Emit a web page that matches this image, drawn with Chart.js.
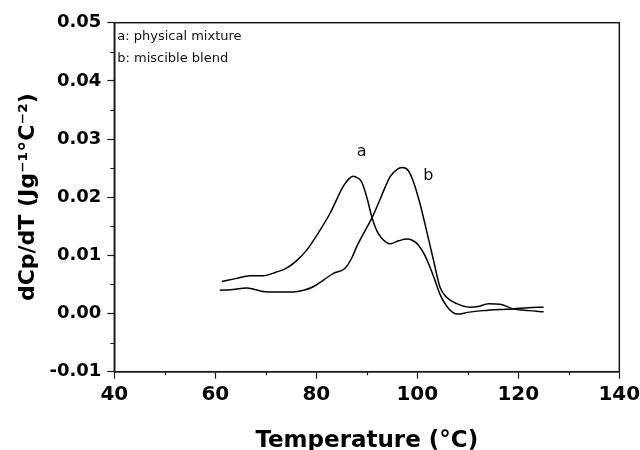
<!DOCTYPE html>
<html>
<head>
<meta charset="utf-8">
<script src="https://cdn.jsdelivr.net/npm/chart.js@4.4.1/dist/chart.umd.min.js"></script>
<style>
  html, body { margin: 0; padding: 0; background: #ffffff; }
  #wrap { width: 640px; height: 450px; }
</style>
</head>
<body>
<div id="wrap"><canvas id="c" width="640" height="450"></canvas></div>
<script>
// ---- data ----
const tempA = [61.3, 64, 66.9, 69.5, 72, 74.1, 76, 78.1, 80.5, 82.7, 85.3, 86.5, 87.3, 88.2, 89.0, 90, 91, 92, 93, 94.6, 96.3, 97.9, 99, 100.2, 101.5, 102.5, 103.5, 104.5, 105.8, 107, 108, 110, 113, 116.4, 119, 122, 125];
const valA  = [0.0055, 0.0060, 0.0065, 0.0065, 0.0071, 0.0078, 0.0090, 0.0109, 0.0140, 0.0172, 0.0218, 0.0232, 0.0236, 0.0233, 0.0226, 0.0200, 0.0166, 0.0142, 0.0129, 0.0120, 0.0125, 0.0128, 0.0126, 0.0118, 0.0100, 0.0080, 0.0057, 0.0033, 0.0013, 0.0002, -0.0001, 0.0002, 0.0005, 0.0007, 0.0008, 0.0010, 0.0011];
const tempB = [60.9, 63, 66.2, 68, 69.5, 72, 75.4, 77.5, 79.4, 81.5, 83.4, 85.7, 87, 88, 89.5, 91, 92.8, 94.6, 96, 97, 98.2, 99.3, 100.5, 101.9, 103.2, 104.5, 105.8, 107.8, 110.4, 112, 114.1, 116.4, 119, 122, 125];
const valB  = [0.0040, 0.0041, 0.0044, 0.0041, 0.0038, 0.0037, 0.0037, 0.0040, 0.0046, 0.0058, 0.0069, 0.0078, 0.0095, 0.0115, 0.0140, 0.0164, 0.0200, 0.0235, 0.0248, 0.0251, 0.0246, 0.0225, 0.0190, 0.0140, 0.0092, 0.0045, 0.0028, 0.0017, 0.0011, 0.0012, 0.0017, 0.0016, 0.0008, 0.0005, 0.0003];

const seriesNames = ['a', 'b'];
const legendLines = ['a: physical mixture', 'b: miscible blend'];
const curveLabelPos = [[89.0, 0.0278], [102.2, 0.0236]];   // where the "a" / "b" labels sit (data units)

const xMin = 40, xMax = 140, xStep = 20;
const yMin = -0.01, yMax = 0.05, yStep = 0.01;
const xMinorTicks = [50, 70, 90, 110, 130];
const yMinorTicks = [-0.005, 0.005, 0.015, 0.025, 0.035, 0.045];

const xTitle = 'Temperature (\u00B0C)';
const yTitle = 'dCp/dT (Jg\u207B\u00B9\u00B0C\u207B\u00B2)';

// ---- build ----
const toPts = (xs, ys) => xs.map((x, i) => ({ x: x, y: ys[i] }));
const INK = '#1a1a1a';

const decor = {
  id: 'decor',
  afterDraw(chart) {
    const ctx = chart.ctx;
    const a = chart.chartArea;
    const xs = chart.scales.x, ys = chart.scales.y;
    ctx.save();
    // frame
    ctx.strokeStyle = INK;
    ctx.lineWidth = 1.5;
    ctx.strokeRect(a.left, a.top, a.right - a.left, a.bottom - a.top);
    // minor ticks
    ctx.lineWidth = 1.2;
    ctx.beginPath();
    xMinorTicks.forEach(v => {
      const p = Math.round(xs.getPixelForValue(v)) + 0.5;
      ctx.moveTo(p, a.bottom); ctx.lineTo(p, a.bottom + 3.5);
    });
    yMinorTicks.forEach(v => {
      const p = Math.round(ys.getPixelForValue(v)) + 0.5;
      ctx.moveTo(a.left, p); ctx.lineTo(a.left - 4, p);
    });
    ctx.stroke();
    // legend text inside plot
    ctx.fillStyle = '#111';
    ctx.font = '13px "DejaVu Sans"';
    ctx.textAlign = 'left';
    ctx.textBaseline = 'middle';
    ctx.fillText(legendLines[0], a.left + 3, a.top + 13.5);
    ctx.fillText(legendLines[1], a.left + 3, a.top + 35.5);
    // curve labels
    ctx.font = '16px "DejaVu Sans"';
    ctx.textAlign = 'center';
    seriesNames.forEach((n, i) => {
      ctx.fillText(n, xs.getPixelForValue(curveLabelPos[i][0]), ys.getPixelForValue(curveLabelPos[i][1]));
    });
    ctx.restore();
  }
};

new Chart(document.getElementById('c'), {
  type: 'scatter',
  data: {
    datasets: [
      { label: legendLines[0], data: toPts(tempA, valA) },
      { label: legendLines[1], data: toPts(tempB, valB) }
    ].map(d => Object.assign(d, {
      showLine: true,
      borderColor: '#000',
      borderWidth: 1.5,
      pointRadius: 0,
      pointHoverRadius: 0,
      cubicInterpolationMode: 'monotone',
      fill: false
    }))
  },
  options: {
    responsive: false,
    animation: false,
    events: [],
    layout: { padding: { top: 22.7, right: 20.7, left: 0, bottom: 0 } },
    plugins: { legend: { display: false }, tooltip: { enabled: false } },
    scales: {
      x: {
        type: 'linear',
        min: xMin, max: xMax,
        afterFit(s) { s.height = 78.3; s.paddingLeft = 0; s.paddingRight = 0; },
        border: { display: true, color: INK, width: 1.5 },
        grid: { display: true, drawOnChartArea: false, drawTicks: true, tickLength: 7, tickColor: INK, tickWidth: 1.2 },
        ticks: {
          stepSize: xStep, padding: 4, color: '#000',
          font: { family: '"DejaVu Sans"', size: 20, weight: 'bold' },
          maxRotation: 0, autoSkip: false,
          callback: v => String(Math.round(v))
        },
        title: {
          display: true, text: xTitle, color: '#000',
          font: { family: '"DejaVu Sans"', size: 23, weight: 'bold', lineHeight: 0.82 },
          padding: { top: 0, bottom: 0 }
        }
      },
      y: {
        type: 'linear',
        min: yMin, max: yMax,
        afterFit(s) { s.width = 114.3; s.paddingTop = 0; s.paddingBottom = 0; },
        border: { display: true, color: INK, width: 1.5 },
        grid: { display: true, drawOnChartArea: false, drawTicks: true, tickLength: 7, tickColor: INK, tickWidth: 1.2 },
        ticks: {
          stepSize: yStep, padding: 6, color: '#000',
          font: { family: '"DejaVu Sans"', size: 18, weight: 'bold' },
          autoSkip: false,
          callback: v => (Math.abs(v) < 1e-9 ? 0 : v).toFixed(2)
        },
        title: {
          display: true, text: yTitle, color: '#000',
          font: { family: '"DejaVu Sans"', size: 22, weight: 'bold', lineHeight: 1.2 },
          padding: { top: 15, bottom: 0 }
        }
      }
    }
  },
  plugins: [decor]
});
</script>
</body>
</html>
